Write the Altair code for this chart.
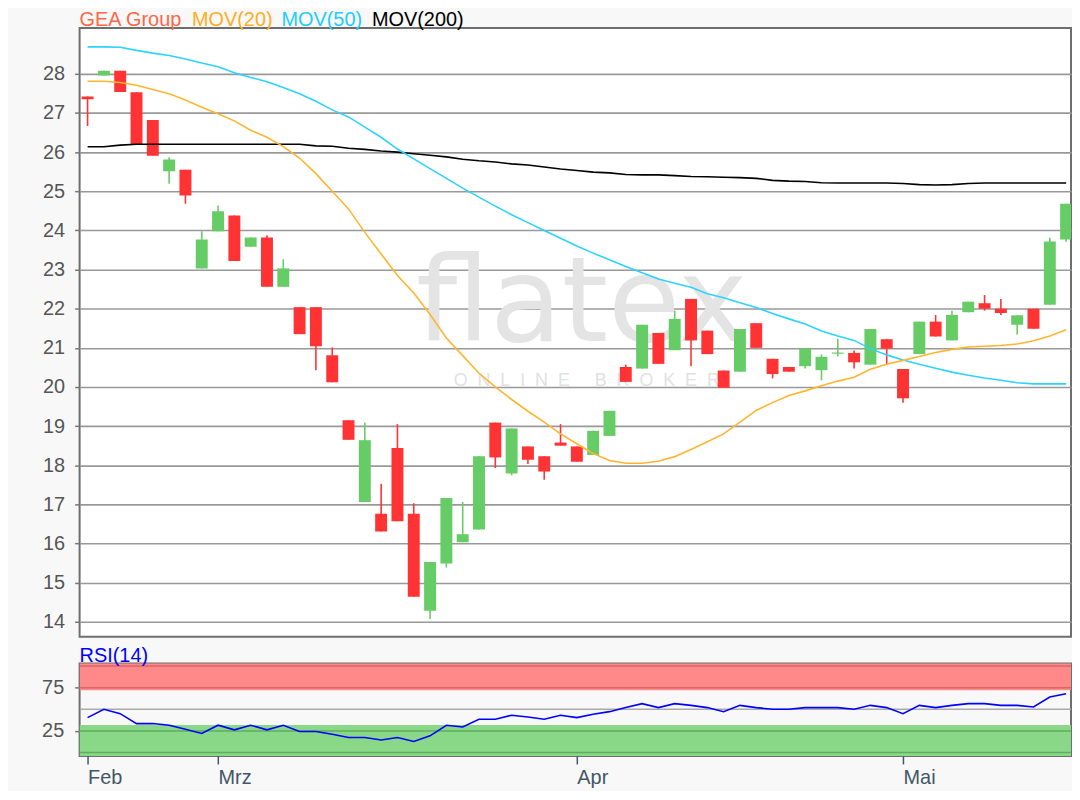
import altair as alt
import pandas as pd

# ---------------- data ----------------
month_labels = ["Feb", "Mrz", "Apr", "Mai"]
month_index = [0, 8, 30, 50]

opens = [27.42, 27.96, 28.08, 27.53, 26.82, 25.51, 25.55, 23.03, 23.98, 24.38,
         23.58, 23.82, 22.56, 22.04, 22.04, 20.81, 19.15, 17.06, 16.76, 18.44,
         16.76, 14.28, 15.49, 16.03, 16.36, 19.09, 17.79, 18.48, 18.23, 18.58,
         18.48, 18.26, 18.75, 20.51, 20.47, 21.38, 20.94, 22.25, 21.44, 20.42,
         20.39, 21.63, 20.72, 20.51, 20.53, 20.43, 20.85, 20.87, 20.57, 21.22,
         20.46, 20.84, 21.67, 21.19, 21.91, 22.14, 22.00, 21.59, 22.00, 22.10,
         23.77]
closes = [27.35, 28.08, 27.54, 26.20, 25.91, 25.81, 24.89, 23.77, 24.49, 23.22,
          23.82, 22.56, 23.03, 21.35, 21.04, 20.12, 18.65, 18.64, 16.31, 16.57,
          14.64, 15.53, 17.16, 16.24, 18.23, 18.20, 18.94, 18.14, 17.84, 18.50,
          18.09, 18.88, 19.39, 20.13, 21.59, 20.59, 21.74, 21.19, 20.84, 19.98,
          21.48, 21.00, 20.33, 20.39, 20.98, 20.77, 20.88, 20.63, 21.48, 20.98,
          19.71, 21.67, 21.29, 21.84, 22.18, 22.00, 21.89, 21.83, 21.49, 23.72,
          24.68]
highs = [27.42, 28.08, 28.08, 27.53, 26.82, 25.87, 25.55, 23.98, 24.64, 24.38,
         23.82, 23.88, 23.26, 22.04, 22.04, 21.01, 19.15, 19.09, 17.53, 19.05,
         17.03, 15.53, 17.16, 17.06, 18.23, 19.09, 18.94, 18.48, 18.23, 19.05,
         18.48, 18.88, 19.39, 20.57, 21.59, 21.38, 21.95, 22.25, 21.44, 20.42,
         21.48, 21.63, 20.72, 20.51, 20.98, 20.83, 21.23, 20.93, 21.48, 21.22,
         20.46, 21.67, 21.84, 21.95, 22.18, 22.35, 22.25, 21.83, 22.00, 23.81,
         24.68]
lows = [26.67, 27.96, 27.54, 26.20, 25.91, 25.19, 24.68, 23.03, 23.98, 23.22,
        23.58, 22.56, 22.56, 21.35, 20.43, 20.12, 18.65, 17.06, 16.31, 16.57,
        14.64, 14.07, 15.39, 16.03, 16.36, 17.93, 17.74, 18.03, 17.63, 18.50,
        18.09, 18.26, 18.75, 20.13, 20.47, 20.59, 20.94, 20.53, 20.84, 19.98,
        20.39, 21.00, 20.22, 20.39, 20.47, 20.17, 20.78, 20.47, 20.57, 20.57,
        19.60, 20.84, 21.29, 21.19, 21.91, 21.95, 21.84, 21.34, 21.49, 22.10,
        23.71]
ma20 = [27.81, 27.81, 27.78, 27.71, 27.60, 27.49, 27.33, 27.15, 26.98, 26.80,
        26.56, 26.38, 26.14, 25.85, 25.45, 25.00, 24.55, 23.95, 23.40, 22.85,
        22.40, 21.85, 21.25, 20.80, 20.35, 20.00, 19.68, 19.38, 19.10, 18.80,
        18.55, 18.30, 18.12, 18.05, 18.05, 18.10, 18.22, 18.40, 18.60, 18.80,
        19.10, 19.40, 19.60, 19.78, 19.90, 20.03, 20.15, 20.25, 20.45, 20.58,
        20.68, 20.78, 20.88, 20.96, 21.02, 21.04, 21.06, 21.10, 21.18, 21.30,
        21.46]
ma50 = [28.69, 28.69, 28.68, 28.60, 28.53, 28.47, 28.38, 28.28, 28.18, 28.03,
        27.91, 27.80, 27.65, 27.49, 27.30, 27.08, 26.90, 26.64, 26.38, 26.08,
        25.83, 25.58, 25.33, 25.08, 24.85, 24.62, 24.40, 24.20, 24.00, 23.80,
        23.60, 23.42, 23.25, 23.08, 22.92, 22.76, 22.65, 22.55, 22.38, 22.28,
        22.15, 22.03, 21.88, 21.74, 21.61, 21.43, 21.30, 21.19, 20.98, 20.82,
        20.69, 20.58, 20.48, 20.38, 20.30, 20.23, 20.17, 20.11, 20.08, 20.08,
        20.08]
ma200 = [26.14, 26.14, 26.18, 26.20, 26.20, 26.20, 26.20, 26.20, 26.20, 26.20,
         26.20, 26.20, 26.20, 26.20, 26.16, 26.15, 26.10, 26.07, 26.03, 26.00,
         25.96, 25.92, 25.88, 25.82, 25.78, 25.75, 25.70, 25.67, 25.62, 25.57,
         25.53, 25.49, 25.47, 25.43, 25.42, 25.42, 25.40, 25.38, 25.37, 25.36,
         25.35, 25.33, 25.28, 25.26, 25.25, 25.22, 25.21, 25.21, 25.21, 25.21,
         25.20, 25.17, 25.16, 25.17, 25.20, 25.21, 25.21, 25.21, 25.21, 25.21,
         25.21]
rsi14 = [40.4, 50.0, 45.0, 33.5, 33.5, 31.6, 27.0, 22.0, 31.6, 26.2,
         31.6, 26.2, 31.6, 24.3, 24.3, 21.2, 17.4, 17.4, 14.6, 17.4,
         12.8, 19.3, 31.6, 29.6, 38.5, 38.5, 43.1, 41.2, 38.5, 43.1,
         40.4, 44.2, 47.3, 52.0, 56.6, 52.0, 56.6, 54.6, 52.0, 47.3,
         54.6, 52.0, 50.0, 50.0, 52.0, 52.0, 52.0, 50.0, 54.6, 52.0,
         45.0, 54.6, 52.0, 54.6, 56.6, 56.6, 54.6, 54.6, 52.7, 64.2,
         68.0]

price_ticks = list(range(14, 29))
rsi_ticks = [25, 75]
rsi_zone_names = ["over", "under"]
rsi_zone_lo = [72, -10]
rsi_zone_hi = [110, 32]
rsi_line_levels = [100, 75, 50, 25, 0]
rsi_line_kind = ["o", "o", "mid", "u", "u"]

legend_texts = ["GEA Group", "MOV(20)", "MOV(50)", "MOV(200)"]
NB = "\u00a0"
watermark_big = "flatex"
watermark_small = (NB * 5).join((NB * 2).join(w) for w in ["ONLINE", "BROKER"])

# ---------------- frames ----------------
n = len(opens)
df = pd.DataFrame({
    "i": list(range(n)), "open": opens, "high": highs, "low": lows,
    "close": closes, "ma20": ma20, "ma50": ma50, "ma200": ma200, "rsi": rsi14,
})
df["dir"] = ["up" if c >= o else "down" for o, c in zip(opens, closes)]

zones = pd.DataFrame({"zone": rsi_zone_names, "lo": rsi_zone_lo, "hi": rsi_zone_hi})
levels = pd.DataFrame({"v": rsi_line_levels, "kind": rsi_line_kind})
one = pd.DataFrame({"k": [0]})

FONT = "Liberation Sans"
W = 997
H_MAIN = 612
H_RSI = 93

xscale = alt.Scale(domain=[-0.49, 60.3], nice=False, zero=False)
yscale = alt.Scale(domain=[13.62, 29.17], nice=False, zero=False)
rscale = alt.Scale(domain=[-4, 103], nice=False, zero=False)

candle_color = alt.Color("dir:N", scale=alt.Scale(domain=["up", "down"],
                                                  range=["#66cc66", "#ff3333"]),
                         legend=None)

y_axis = alt.Axis(values=price_ticks, title=None, labelFont=FONT, labelFontSize=20,
                  labelColor="#555555", tickSize=5, tickColor="#777777", tickWidth=1.5,
                  domain=False, grid=True, gridColor="#999999", gridWidth=1.6,
                  labelPadding=10)

base = alt.Chart(df)
xe = alt.X("i:Q", scale=xscale, axis=None)

wicks = base.mark_rule(strokeWidth=1.6, clip=True).encode(
    x=xe, y=alt.Y("low:Q", scale=yscale, axis=y_axis), y2="high:Q", color=candle_color)
bodies = base.mark_rule(strokeWidth=12, clip=True).encode(
    x=xe, y=alt.Y("open:Q", scale=yscale), y2="close:Q", color=candle_color)

def ma_line(col, color):
    return base.mark_line(color=color, strokeWidth=1.6, clip=True).encode(
        x=xe, y=alt.Y(f"{col}:Q", scale=yscale))

l200 = ma_line("ma200", "#000000")
l50 = ma_line("ma50", "#2bd3ff")
l20 = ma_line("ma20", "#ffb52e")

wm1 = alt.Chart(one).mark_text(text=watermark_big, x=505, y=315, align="center",
                               baseline="alphabetic", fontSize=118, font="DejaVu Sans",
                               color="#e4e4e4")
wm2 = alt.Chart(one).mark_text(text=watermark_small, x=510, y=360,
                               align="center", baseline="alphabetic", fontSize=18,
                               font=FONT, color="#e2e2e2")

legend_colors = ["#ff6644", "#ffad1f", "#22ccff", "#000000"]
legend_x = [0, 113, 203, 294]
legend_layers = [
    alt.Chart(one).mark_text(text=t, x=xx, y=-2, align="left", baseline="alphabetic",
                             fontSize=20, font=FONT, color=c)
    for t, xx, c in zip(legend_texts, legend_x, legend_colors)
]

main = alt.layer(wm1, wm2, wicks, bodies, l200, l50, l20, *legend_layers).properties(
    width=W, height=H_MAIN)

# ---------------- RSI panel ----------------
label_expr = " : ".join(
    f"datum.value == {v} ? '{lab}'" for v, lab in zip(month_index, month_labels)) + " : ''"

x_axis_rsi = alt.Axis(values=month_index, labelExpr=label_expr, title=None,
                      labelFont=FONT, labelFontSize=20, labelColor="#445566",
                      tickSize=8, tickColor="#445566", tickWidth=1.5, domain=False,
                      grid=False, labelPadding=4, labelAlign="left", labelFlush=False)
y_axis_rsi = alt.Axis(values=rsi_ticks, title=None, labelFont=FONT, labelFontSize=20,
                      labelColor="#555555", tickSize=5, tickColor="#777777", tickWidth=1.5,
                      domain=False, grid=False, labelPadding=11)

zone_rect = alt.Chart(zones).mark_rect(clip=True).encode(
    x=alt.value(0), x2=alt.value(W),
    y=alt.Y("lo:Q", scale=rscale, axis=y_axis_rsi), y2="hi:Q",
    color=alt.Color("zone:N", scale=alt.Scale(domain=rsi_zone_names,
                                              range=["#ff8888", "#88d888"]), legend=None))
level_rules = alt.Chart(levels).mark_rule(strokeWidth=1.5, clip=True).encode(
    x=alt.value(0), x2=alt.value(W),
    y=alt.Y("v:Q", scale=rscale),
    color=alt.Color("kind:N", scale=alt.Scale(domain=["o", "mid", "u"],
                                              range=["#d86868", "#aaaaaa", "#5fae5f"]),
                    legend=None))
rsi_line = base.mark_line(color="#0000ff", strokeWidth=1.6, clip=True).encode(
    x=alt.X("i:Q", scale=xscale, axis=x_axis_rsi), y=alt.Y("rsi:Q", scale=rscale))
rsi_title = alt.Chart(one).mark_text(text="RSI(14)", x=0, y=-2, align="left",
                                     baseline="alphabetic", fontSize=20, font=FONT,
                                     color="#0000ff")

rsi = alt.layer(zone_rect, level_rules, rsi_line, rsi_title).resolve_scale(
    color="independent").properties(width=W, height=H_RSI)

chart = alt.vconcat(main, rsi, spacing=27, bounds="flush").properties(
    background="#f8f8f8", padding={"left": 32, "top": -1, "right": 0, "bottom": 0}
).configure_view(stroke="#6e6e6e", strokeWidth=2, fill="white").resolve_scale(
    color="independent")

chart.save("out.html", embed_options={"renderer": "svg", "actions": False})
